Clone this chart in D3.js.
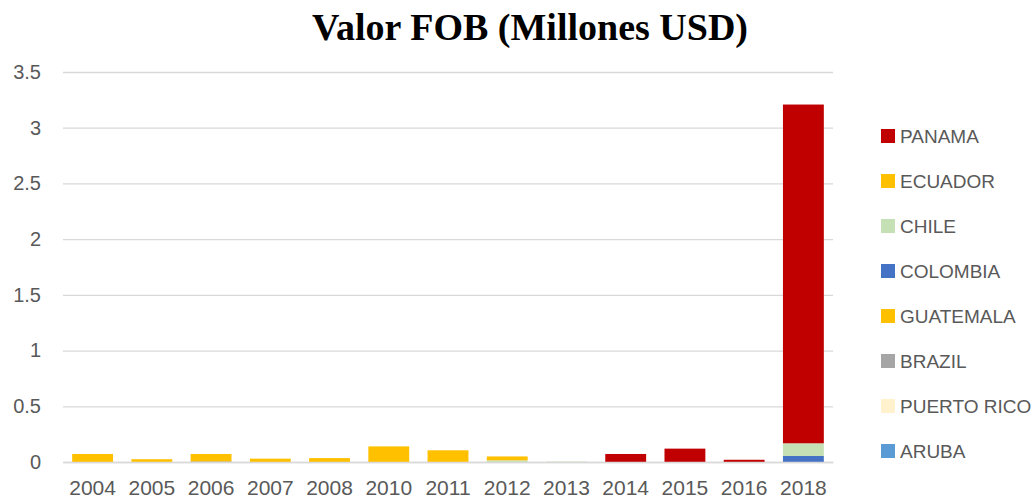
<!DOCTYPE html>
<html>
<head>
<meta charset="utf-8">
<script src="https://cdn.jsdelivr.net/npm/d3@7"></script>
<style>
  body { margin: 0; background: #fff; }
  svg text { font-family: "Liberation Sans", Arial, sans-serif; fill: #595959; }
</style>
</head>
<body>
<div id="graph"></div>
<script>
const years = ["2004","2005","2006","2007","2008","2010","2011","2012","2013","2014","2015","2016","2018"];

// series, bottom of stack first
const series = ["ARUBA","PUERTO RICO","BRAZIL","GUATEMALA","COLOMBIA","CHILE","ECUADOR","PANAMA"];
const colors = ["#5B9BD5","#FFF2CC","#A5A5A5","#FFC000","#4472C4","#C5E0B4","#FFC000","#C00000"];

const aruba      = [0,0,0,0,0,0,0,0,0,0,0,0,0];
const puertoRico = [0,0,0,0,0,0,0,0,0,0,0,0,0];
const brazil     = [0,0,0,0,0,0,0,0,0,0,0,0,0];
const guatemala  = [0,0,0,0,0,0,0,0,0,0,0,0,0];
const colombia   = [0,0,0.004,0,0,0,0,0,0,0,0,0,0.054];
const chile      = [0,0,0,0,0,0,0,0.015,0.004,0,0,0,0.114];
const ecuador    = [0.072,0.025,0.068,0.03,0.035,0.14,0.105,0.035,0,0,0,0,0];
const panama     = [0,0,0,0,0,0,0,0,0,0.072,0.12,0.02,3.04];

const yTicks = [0,0.5,1,1.5,2,2.5,3,3.5];

const values = [aruba, puertoRico, brazil, guatemala, colombia, chile, ecuador, panama];
const table = years.map((y, i) => {
  const row = { year: y };
  series.forEach((s, k) => row[s] = values[k][i]);
  return row;
});

const width = 1035;
const height = 502;
const marginLeft = 63;
const marginRight = 202;
const marginTop = 72;
const marginBottom = 40;

const xScale = d3.scaleBand()
  .domain(years)
  .range([marginLeft, width - marginRight])
  .paddingInner(0.31)
  .paddingOuter(0.155);

const yScale = d3.scaleLinear()
  .domain([0, 3.5])
  .range([height - marginBottom, marginTop]);

const stacked = d3.stack().keys(series)(table);

const svg = d3.create("svg")
  .attr("width", width)
  .attr("height", height)
  .attr("viewBox", `0 0 ${width} ${height}`);

svg.append("text")
  .attr("x", 530)
  .attr("y", 40)
  .attr("text-anchor", "middle")
  .style("font-family", "'Liberation Serif', 'Times New Roman', serif")
  .style("font-weight", "bold")
  .style("font-size", "38px")
  .style("fill", "#000")
  .text("Valor FOB (Millones USD)");

// gridlines + y labels
const yAxis = d3.axisLeft(yScale)
  .tickValues(yTicks)
  .tickSize(-(width - marginLeft - marginRight))
  .tickPadding(22)
  .tickFormat(d => d);

svg.append("g")
  .attr("transform", `translate(${marginLeft}, 0)`)
  .call(yAxis)
  .call(g => g.select(".domain").remove())
  .call(g => g.selectAll("line").attr("stroke", "#D9D9D9").attr("stroke-width", 1.3))
  .call(g => g.selectAll("text").style("font-size", "20px"));

svg.append("g")
  .selectAll("g")
  .data(stacked)
  .join("g")
  .attr("fill", (d, i) => colors[i])
  .selectAll("rect")
  .data(d => d)
  .join("rect")
  .attr("x", d => xScale(d.data.year))
  .attr("y", d => yScale(d[1]))
  .attr("width", xScale.bandwidth())
  .attr("height", d => yScale(d[0]) - yScale(d[1]));

const xAxis = d3.axisBottom(xScale)
  .tickSize(0)
  .tickPadding(18);

svg.append("g")
  .attr("transform", `translate(0, ${height - marginBottom})`)
  .call(xAxis)
  .call(g => g.select(".domain").attr("stroke", "#D9D9D9").attr("stroke-width", 1.3))
  .call(g => g.selectAll("text").style("font-size", "21px"));

// legend, top series first
const legend = svg.append("g")
  .selectAll("g")
  .data(series.slice().reverse())
  .join("g")
  .attr("transform", (d, i) => `translate(881, ${136 + i * 45})`);

legend.append("rect")
  .attr("y", -7)
  .attr("width", 14)
  .attr("height", 14)
  .attr("fill", d => colors[series.indexOf(d)]);

legend.append("text")
  .attr("x", 19)
  .attr("dy", "0.36em")
  .style("font-size", "19px")
  .text(d => d);

graph.append(svg.node());
</script>
</body>
</html>
